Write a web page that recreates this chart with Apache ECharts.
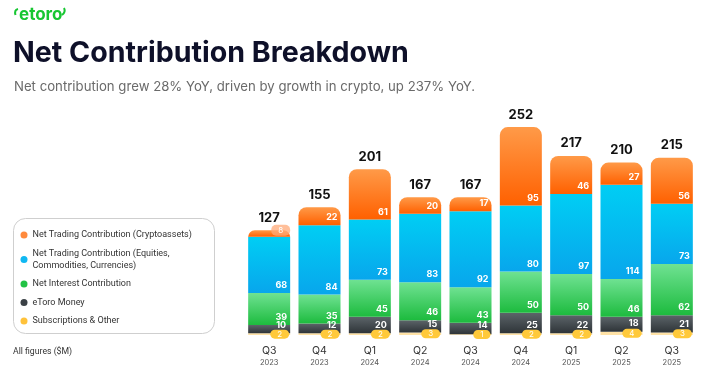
<!DOCTYPE html>
<html><head><meta charset="utf-8">
<script src="https://cdn.jsdelivr.net/npm/echarts@6/dist/echarts.min.js"></script>
<style>html,body{margin:0;padding:0;background:#fff}#c{width:706px;height:367px}</style>
</head><body><div id="c"></div><script>
const quarters = ['Q3','Q4','Q1','Q2','Q3','Q4','Q1','Q2','Q3'];
const years = ['2023','2023','2024','2024','2024','2024','2025','2025','2025'];
const subscriptions = [2,2,2,3,1,2,2,4,3];
const etoroMoney = [10,12,20,15,14,25,22,18,21];
const netInterest = [39,35,45,46,43,50,50,46,62];
const equities = [68,84,73,83,92,80,97,114,73];
const crypto = [8,22,61,20,17,95,46,27,56];
const totals = [127,155,201,167,167,252,217,210,215];

const NAMES = {
  crypto: 'Net Trading Contribution (Cryptoassets)',
  eq: 'Net Trading Contribution (Equities, Commodities, Currencies)',
  ni: 'Net Interest Contribution',
  money: 'eToro Money',
  subs: 'Subscriptions & Other'
};
const FONT = 'Inter, "Noto Sans", sans-serif';
const FONT2 = 'Roboto, "Noto Sans", sans-serif';
const grad = (a, b) => new echarts.graphic.LinearGradient(0, 0, 0, 1, [{offset: 0, color: a}, {offset: 1, color: b}]);
const valLabel = {
  show: true, position: 'insideBottomRight', distance: 3,
  color: '#fff', fontFamily: FONT, fontWeight: 'bold', fontSize: 9
};
const cats = quarters.map((q, i) => q + '|' + years[i] + '|' + i);

const chart = echarts.init(document.getElementById('c'), null, {renderer: 'canvas'});
chart.setOption({
  animation: false,
  backgroundColor: '#fff',
  grid: {left: 244, right: 9, top: 120.5, bottom: 32},
  xAxis: {
    type: 'category', data: cats,
    axisLine: {show: false}, axisTick: {show: false},
    axisLabel: {
      margin: 9, interval: 0,
      formatter: v => { const p = v.split('|'); return '{q|' + p[0] + '}\n{y|' + p[1] + '}'; },
      rich: {
        q: {fontFamily: FONT, fontSize: 10.5, color: '#333', lineHeight: 13},
        y: {fontFamily: FONT, fontSize: 7.5, color: '#555', lineHeight: 11}
      }
    }
  },
  yAxis: {type: 'value', min: 0, max: 260, show: false, splitLine: {show: false}},
  legend: {
    orient: 'vertical', left: 20.5, top: 229, padding: 0,
    icon: 'circle', itemWidth: 7, itemHeight: 7, itemGap: 6.5,
    textStyle: {fontFamily: FONT2, fontSize: 9, color: '#333', lineHeight: 12},
    formatter: n => n === NAMES.eq ? 'Net Trading Contribution (Equities,\nCommodities, Currencies)' : n,
    data: [
      {name: NAMES.crypto, itemStyle: {color: '#FF8A3D'}},
      {name: NAMES.eq, itemStyle: {color: '#10B8F2'}},
      {name: NAMES.ni, itemStyle: {color: '#22C245'}},
      {name: NAMES.money, itemStyle: {color: '#3A4045'}},
      {name: NAMES.subs, itemStyle: {color: '#FFC23A'}}
    ]
  },
  graphic: [
    {type: 'bezierCurve', shape: {x1: 18, y1: 9, cpx1: 14, cpy1: 10, x2: 15.5, y2: 15}, style: {fill: 'none', stroke: '#17C632', lineWidth: 2}},
    {type: 'text', x: 19, y: 15, style: {text: 'etoro', font: 'bold 17px ' + FONT, fill: '#17C632', verticalAlign: 'middle'}},
    {type: 'bezierCurve', shape: {x1: 62, y1: 15, cpx1: 66, cpy1: 12, x2: 64, y2: 8}, style: {fill: 'none', stroke: '#17C632', lineWidth: 2}},
    {type: 'text', x: 13, y: 53, style: {text: 'Net Contribution Breakdown', font: 'bold 28.6px ' + FONT, fill: '#0E1029', verticalAlign: 'middle'}},
    {type: 'text', x: 14, y: 87, style: {text: 'Net contribution grew 28% YoY, driven by growth in crypto, up 237% YoY.', font: '13.2px ' + FONT, fill: '#6A6A6A', verticalAlign: 'middle'}},
    {type: 'rect', shape: {x: 13.5, y: 218.5, width: 201, height: 115, r: 12}, style: {fill: 'none', stroke: '#CFCFCF', lineWidth: 1}, z: -1},
    {type: 'text', x: 13, y: 352, style: {text: 'All figures ($M)', font: '8.7px ' + FONT2, fill: '#333', verticalAlign: 'middle'}}
  ],
  series: [
    {name: NAMES.subs, type: 'bar', stack: 's', barWidth: 42, data: subscriptions,
      itemStyle: {color: '#FFE2A6'},
      label: {show: true, position: 'insideRight', distance: 1, color: '#fff', fontFamily: FONT, fontSize: 8,
        backgroundColor: '#FFC93A', borderRadius: 5, padding: [1, 7, 0, 7]}},
    {name: NAMES.money, type: 'bar', stack: 's', data: etoroMoney,
      itemStyle: {color: grad('#5C6469', '#2E3438')}, label: Object.assign({}, valLabel, {distance: 4})},
    {name: NAMES.ni, type: 'bar', stack: 's', data: netInterest,
      itemStyle: {color: grad('#6FE292', '#1DBB3E')}, label: valLabel},
    {name: NAMES.eq, type: 'bar', stack: 's', data: equities,
      itemStyle: {color: grad('#00CEF4', '#08A6EC')}, label: valLabel},
    {name: NAMES.crypto, type: 'bar', stack: 's',
      data: crypto.map((v, i) => i === 0 ? {value: v, label: {
        position: ['100%', '0%'], align: 'right', verticalAlign: 'middle', offset: [0, 0],
        backgroundColor: 'rgba(255,170,120,0.75)', borderRadius: 5, padding: [2, 7, 1, 7], fontWeight: 'normal', fontSize: 8
      }} : v),
      itemStyle: {color: grad('#FF9A48', '#FF6000'), borderRadius: [8, 8, 0, 0]}, label: valLabel},
    {name: 'total', type: 'bar', stack: 's', data: totals.map(() => 0),
      itemStyle: {color: 'transparent'},
      label: {show: true, position: 'top', distance: 6, color: '#111', fontFamily: FONT, fontWeight: 'bold', fontSize: 13,
        formatter: p => String(totals[p.dataIndex])}}
  ]
});
</script></body></html>
